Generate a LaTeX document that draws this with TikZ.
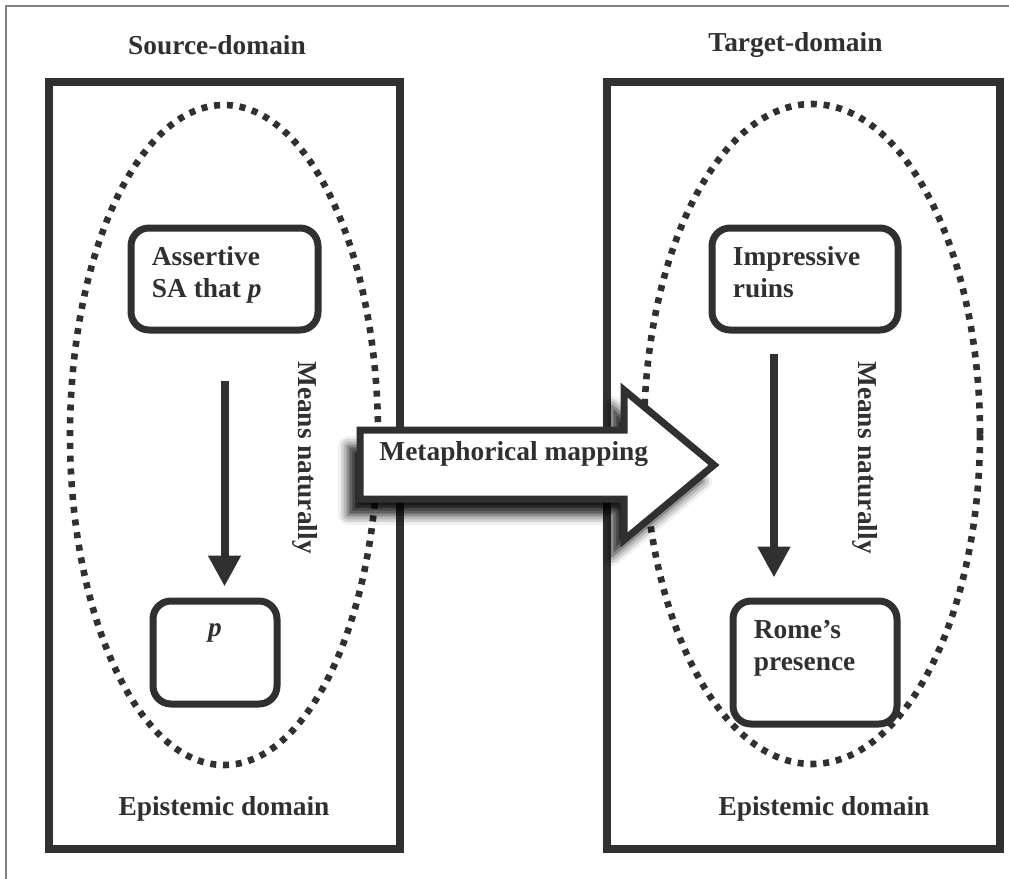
\documentclass[tikz,border=0pt]{standalone}
\usepackage{fontspec}
\setmainfont{Liberation Serif}
\usetikzlibrary{positioning}
\usetikzlibrary{arrows.meta}
\usetikzlibrary{shadows.blur}
\definecolor{ink}{gray}{0.19}
\tikzstyle{domainbox} = [draw=ink, line width=4pt]
\tikzstyle{dotregion} = [draw=ink, line width=3.3pt, dash pattern=on 3pt off 3.4pt]
\tikzstyle{roundbox} = [draw=ink, line width=3.5pt, rounded corners=9pt, inner sep=0pt]
\tikzstyle{lbl} = [text=ink, inner sep=0pt, align=left, font=\fontsize{13.7pt}{16pt}\selectfont\bfseries]
\tikzstyle{flowarrow} = [draw=ink, line width=4pt, -{Triangle[length=15.5pt,width=15.5pt]}]

\begin{document}
\begin{tikzpicture}[x=0.5pt, y=-0.5pt]
\useasboundingbox (0,0) rectangle (1009,879);
\draw[gray, line width=1pt] (6,879) -- (6,6) -- (1009,6);

% the two domains
\draw[domainbox] (49,82) coordinate (s_1) rectangle (400,849) coordinate (s_2);
\draw[domainbox] (607,82) coordinate (t_1) rectangle (1000,849) coordinate (t_2);
\node[lbl] (srctitle) at (217,45) {Source-domain};
\node[lbl] (tgttitle) at (795.5,45) {Target-domain};
\node[lbl, anchor=base] (srcepi) at (224,815) {Epistemic domain};
\node[lbl, anchor=base] (tgtepi) at (824,815) {Epistemic domain};

% dotted regions
\draw[dotregion] (224,435) ellipse [x radius=77pt, y radius=165pt];
\draw[dotregion] (812,434) ellipse [x radius=84pt, y radius=165pt];

% source side
\node[roundbox, minimum width=93.5pt, minimum height=51pt] (assert) at (224.5,279) {};
\node[roundbox, minimum width=62pt, minimum height=51.5pt] (pbox) at (215,652.5) {};
\node[lbl, anchor=north west] (assertlbl) at ([xshift=12pt,yshift=-11pt]assert.north west) {Assertive\\SA that \textit{p}};
\node[lbl, anchor=base] (plbl) at ([yshift=-19.5pt]pbox.north) {\textit{p}};
\draw[flowarrow, shorten <=23.5pt, shorten >=5.5pt] (assert.south) -- (assert.south |- pbox.north);
\node[lbl, rotate=-90] (srcmeans) at (305,457.5) {Means naturally};

% target side
\node[roundbox, minimum width=93pt, minimum height=51pt] (imp) at (805,279) {};
\node[roundbox, minimum width=82pt, minimum height=61.5pt] (rome) at (815,662.5) {};
\node[lbl, anchor=north west] (implbl) at ([xshift=12pt,yshift=-11pt]imp.north west) {Impressive\\ruins};
\node[lbl, anchor=north west] (romelbl) at ([xshift=12pt,yshift=-11pt]rome.north west) {Rome’s\\presence};
\draw[flowarrow, shorten <=10pt, shorten >=10pt] ([xshift=-15.5pt]imp.south) -- ([xshift=-15.5pt]imp.south |- rome.north);
\node[lbl, rotate=-90] (tgtmeans) at (865,457.5) {Means naturally};

% mapping arrow
\draw[draw=ink, fill=white, line width=3.5pt, miter limit=20,
      blur shadow={shadow xshift=-6pt, shadow yshift=-8pt, shadow blur radius=5pt, shadow opacity=90}]
  (360,430) -- (624,430) -- (624,390) -- (714,465) -- (624,540) -- (624,499) -- (360,499) -- cycle;
\node[lbl, anchor=base west] (maplbl) at (379,460) {Metaphorical mapping};

\end{tikzpicture}
\end{document}
